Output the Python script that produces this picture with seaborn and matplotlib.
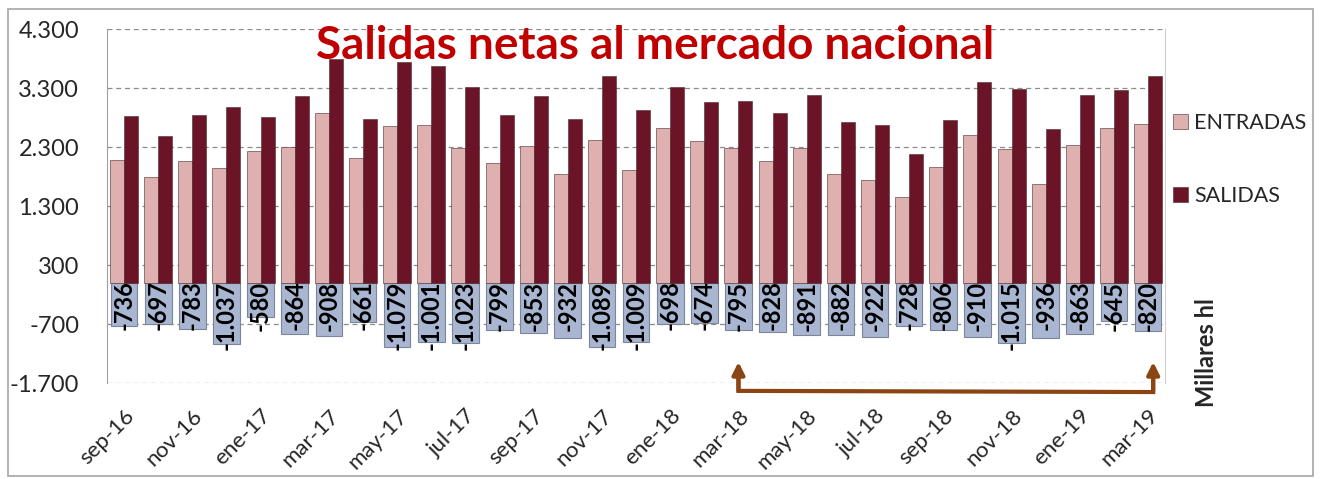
import numpy as np
import pandas as pd
import matplotlib
matplotlib.use("Agg")
import matplotlib.pyplot as plt
from matplotlib.patches import Rectangle
from matplotlib.ticker import FuncFormatter
import seaborn as sns

months = ["sep-16", "oct-16", "nov-16", "dic-16", "ene-17", "feb-17", "mar-17", "abr-17",
          "may-17", "jun-17", "jul-17", "ago-17", "sep-17", "oct-17", "nov-17", "dic-17",
          "ene-18", "feb-18", "mar-18", "abr-18", "may-18", "jun-18", "jul-18", "ago-18",
          "sep-18", "oct-18", "nov-18", "dic-18", "ene-19", "feb-19", "mar-19"]

entradas = [2090, 1790, 2070, 1940, 2240, 2300, 2880, 2110, 2660, 2680, 2290, 2040,
            2320, 1850, 2420, 1920, 2620, 2400, 2290, 2060, 2290, 1850, 1750, 1450,
            1960, 2500, 2270, 1680, 2330, 2630, 2690]

salidas = [2826, 2487, 2853, 2977, 2820, 3164, 3788, 2771, 3739, 3681, 3313, 2839,
           3173, 2782, 3509, 2929, 3318, 3074, 3085, 2888, 3181, 2732, 2672, 2178,
           2766, 3410, 3285, 2616, 3193, 3275, 3510]

netas = [-736, -697, -783, -1037, -580, -864, -908, -661, -1079, -1001, -1023, -799,
         -853, -932, -1089, -1009, -698, -674, -795, -828, -891, -882, -922, -728,
         -806, -910, -1015, -936, -863, -645, -820]

yticks = [-1700, -700, 300, 1300, 2300, 3300, 4300]


def miles(v):
    return f"{int(v):,}".replace(",", ".")


sns.set_style("white")
plt.rcParams["font.family"] = ["Lato", "DejaVu Sans"]

fig = plt.figure(figsize=(13.21, 4.79), dpi=100)
ax = fig.add_axes([0.081, 0.2, 0.801, 0.739])

# net bars (behind)
net_df = pd.DataFrame({"mes": months, "valor": netas})
sns.barplot(data=net_df, x="mes", y="valor", order=months, color="#a9b6d2",
            width=0.78, edgecolor="#7d8699", linewidth=0.8, saturation=1, ax=ax)

long = pd.DataFrame({
    "mes": months * 2,
    "valor": entradas + salidas,
    "serie": ["ENTRADAS"] * len(months) + ["SALIDAS"] * len(months),
})
sns.barplot(data=long, x="mes", y="valor", hue="serie", order=months,
            palette={"ENTRADAS": "#dfb0b0", "SALIDAS": "#6b1428"},
            width=0.82, edgecolor="#4a2a2a", linewidth=0.4, saturation=1, ax=ax)

for i, v in enumerate(netas):
    ax.text(i, 40, miles(v), rotation=90, ha="center", va="top",
            fontsize=17, fontweight="bold", color="black", zorder=5)

ax.set_ylim(-1700, 4300)
ax.set_xlim(-0.5, len(months) - 0.5)
ax.set_yticks(yticks)
ax.yaxis.set_major_formatter(FuncFormatter(lambda v, p: miles(v)))
ax.tick_params(axis="y", labelsize=17, length=0, pad=20)
ax.set_xticks(range(0, len(months), 2))
ax.set_xticklabels(months[::2], rotation=45, ha="right", rotation_mode="anchor",
                   fontsize=16)
ax.tick_params(axis="x", length=0, pad=16)
ax.set_xlabel("")
ax.set_ylabel("")
ax.grid(axis="y", color="#8c8c8c", linestyle=(0, (4, 3)), linewidth=0.9)
ax.set_axisbelow(True)
for s in ["top", "bottom"]:
    ax.spines[s].set_visible(False)
ax.spines["left"].set_color("#a0a0a0")
ax.spines["right"].set_color("#d0d0d0")

leg = ax.legend(loc="upper left", bbox_to_anchor=(0.995, 0.8), frameon=False,
                fontsize=15.5, handlelength=0.7, handleheight=0.7, labelspacing=2.45,
                handletextpad=0.3, borderaxespad=0.2)

# bracket arrow between mar-18 and mar-19
i0, i1 = months.index("mar-18"), months.index("mar-19")
x1 = i1 + 0.15
yb, yt = -1830, -1340
ax.plot([i0, i0, x1, x1], [yt - 120, yb, yb - 20, yt - 120],
        color="#8b4513", linewidth=3, clip_on=False, solid_joinstyle="miter")
for xx in (i0, x1):
    ax.annotate("", xy=(xx, yt), xytext=(xx, yb),
                arrowprops=dict(arrowstyle="-|>", color="#8b4513", lw=3,
                                mutation_scale=18, shrinkA=0, shrinkB=0),
                annotation_clip=False)

fig.text(0.496, 0.905, "Salidas netas al mercado nacional", color="#c00000",
         fontsize=33, fontweight="bold", ha="center", va="center")
fig.text(0.913, 0.265, "Millares hl", rotation=90, fontsize=17, fontweight="bold",
         ha="center", va="center")

fig.patches.append(Rectangle((0.006, 0.006), 0.988, 0.975, transform=fig.transFigure,
                             fill=False, edgecolor="#a6a6a6", linewidth=1.2))

fig.savefig("out.png", dpi=100)
